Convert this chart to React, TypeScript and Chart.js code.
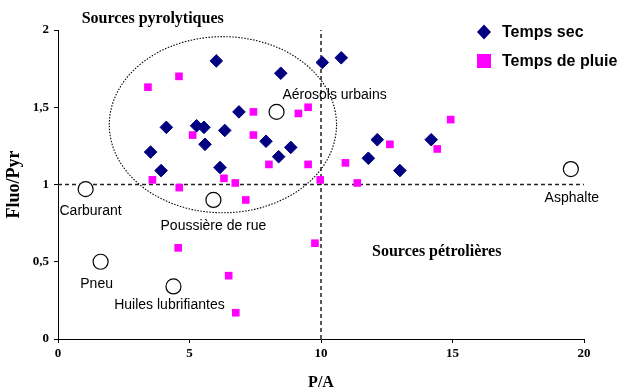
import React, { useEffect, useRef } from 'react';
import { Chart, registerables } from 'chart.js';

Chart.register(...registerables);

const SERIF = '"Liberation Serif", "Times New Roman", serif';
const SANS = '"Liberation Sans", Arial, sans-serif';

// Axis ticks
const X_TICKS = [0, 5, 10, 15, 20];
const Y_TICKS = [0, 0.5, 1, 1.5, 2];

// Temps sec (dry weather)
const dryX = [6.02, 8.47, 10.05, 10.77, 6.88, 4.12, 5.27, 5.55, 6.34, 5.59, 3.52, 7.91, 8.39, 8.85, 3.92, 6.16, 12.14, 11.8, 13.0, 14.19];
const dryY = [1.8, 1.72, 1.79, 1.82, 1.47, 1.37, 1.38, 1.37, 1.35, 1.26, 1.21, 1.28, 1.18, 1.24, 1.09, 1.11, 1.29, 1.17, 1.09, 1.29];

// Temps de pluie (rainy weather)
const wetX = [3.42, 4.6, 7.43, 9.14, 9.51, 5.12, 7.43, 8.02, 9.51, 10.93, 3.59, 6.31, 6.74, 4.61, 9.97, 7.14, 14.93, 12.62, 14.42, 11.38, 4.57, 9.77, 6.49, 6.76];
const wetY = [1.63, 1.7, 1.47, 1.46, 1.5, 1.32, 1.32, 1.13, 1.13, 1.14, 1.03, 1.04, 1.01, 0.98, 1.03, 0.9, 1.42, 1.26, 1.23, 1.01, 0.59, 0.62, 0.41, 0.17];

// Reference sources
const sourceNames = ['Carburant', 'Poussière de rue', 'Pneu', 'Huiles lubrifiantes', 'Aérosols urbains', 'Asphalte'];
const sourceX = [1.05, 5.91, 1.62, 4.39, 8.31, 19.5];
const sourceY = [0.97, 0.9, 0.5, 0.34, 1.47, 1.1];

// Threshold lines
const thresholdPA = 10;
const thresholdFP = 1;

// Dotted ellipse enclosing pyrolytic zone (data units)
const ellipseCenter = [6.27, 1.387];
const ellipseRadii = [4.32, 0.57];

// Region labels (data anchors)
const regionNames = ['Sources pyrolytiques', 'Sources pétrolières'];
const regionX = [3.6, 14.4];
const regionY = [2.07, 0.563];

const legendNames = ['Temps sec', 'Temps de pluie'];

// label pixel offsets from source point (style)
const LABEL_OFFSETS: [number, number][] = [[5, 22], [0, 26], [-4, 22], [-4, 19], [58, -17], [1, 29]];

export default function App() {
  const ref = useRef<HTMLCanvasElement>(null);

  useEffect(() => {
    const canvas = ref.current;
    if (!canvas) return;

    const overlay = {
      id: 'overlay',
      beforeDatasetsDraw(chart: any) {
        const { ctx, scales } = chart;
        const x = scales.x, y = scales.y;
        const cx = x.getPixelForValue(ellipseCenter[0]);
        const cy = y.getPixelForValue(ellipseCenter[1]);
        const rx = x.getPixelForValue(ellipseCenter[0] + ellipseRadii[0]) - cx;
        const ry = cy - y.getPixelForValue(ellipseCenter[1] + ellipseRadii[1]);
        ctx.save();
        ctx.beginPath();
        ctx.setLineDash([1.5, 1.5]);
        ctx.lineWidth = 1.1;
        ctx.strokeStyle = '#000';
        ctx.ellipse(cx, cy, rx, ry, 0, 0, Math.PI * 2);
        ctx.stroke();
        ctx.restore();
      },
      afterDatasetsDraw(chart: any) {
        const { ctx, scales } = chart;
        const x = scales.x, y = scales.y;
        ctx.save();
        ctx.fillStyle = '#000';
        ctx.textAlign = 'center';
        ctx.textBaseline = 'middle';
        ctx.font = `14px ${SANS}`;
        sourceNames.forEach((n, i) => {
          const px = x.getPixelForValue(sourceX[i]) + LABEL_OFFSETS[i][0];
          const py = y.getPixelForValue(sourceY[i]) + LABEL_OFFSETS[i][1];
          ctx.fillText(n, px, py);
        });
        ctx.font = `bold 16px ${SERIF}`;
        regionNames.forEach((n, i) => {
          ctx.fillText(n, x.getPixelForValue(regionX[i]), y.getPixelForValue(regionY[i]));
        });
        // legend
        const lx = 484;
        const ly = [32, 61];
        ctx.fillStyle = '#000080';
        ctx.beginPath();
        ctx.moveTo(lx, ly[0] - 7.5);
        ctx.lineTo(lx + 7, ly[0]);
        ctx.lineTo(lx, ly[0] + 7.5);
        ctx.lineTo(lx - 7, ly[0]);
        ctx.closePath();
        ctx.fill();
        ctx.fillStyle = '#FF00FF';
        ctx.fillRect(lx - 7, ly[1] - 7, 14, 14);
        ctx.fillStyle = '#000';
        ctx.textAlign = 'left';
        ctx.font = `bold 16px ${SANS}`;
        legendNames.forEach((n, i) => ctx.fillText(n, 502, ly[i] + 1));
        ctx.restore();
      },
    };

    const chart = new Chart(canvas, {
      type: 'scatter',
      data: {
        datasets: [
          {
            label: legendNames[0],
            data: dryX.map((v, i) => ({ x: v, y: dryY[i] })),
            pointStyle: 'rectRot',
            pointRadius: 6.3,
            backgroundColor: '#000080',
            borderColor: '#000080',
            borderWidth: 1,
            order: 2,
            clip: false,
          },
          {
            label: legendNames[1],
            data: wetX.map((v, i) => ({ x: v, y: wetY[i] })),
            pointStyle: 'rect',
            pointRadius: 5.4,
            backgroundColor: '#FF00FF',
            borderColor: '#FF00FF',
            borderWidth: 0,
            order: 3,
            clip: false,
          },
          {
            label: 'Sources',
            data: sourceX.map((v, i) => ({ x: v, y: sourceY[i] })),
            pointStyle: 'circle',
            pointRadius: 7.5,
            backgroundColor: '#fff',
            borderColor: '#000',
            borderWidth: 1.2,
            order: 1,
            clip: false,
          },
          {
            label: 'seuil Fluo/Pyr',
            data: [{ x: X_TICKS[0], y: thresholdFP }, { x: X_TICKS[X_TICKS.length - 1], y: thresholdFP }],
            showLine: true,
            pointRadius: 0,
            borderColor: '#222',
            borderWidth: 1.5,
            borderDash: [4, 3],
            order: 10,
          } as any,
          {
            label: 'seuil P/A',
            data: [{ x: thresholdPA, y: Y_TICKS[0] }, { x: thresholdPA, y: Y_TICKS[Y_TICKS.length - 1] }],
            showLine: true,
            pointRadius: 0,
            borderColor: '#222',
            borderWidth: 1.5,
            borderDash: [4, 3],
            order: 10,
          } as any,
        ],
      },
      options: {
        responsive: false,
        animation: false,
        layout: { padding: { top: 30, right: 36, left: 0, bottom: 0 } },
        plugins: { legend: { display: false }, tooltip: { enabled: false } },
        scales: {
          x: {
            type: 'linear',
            min: X_TICKS[0],
            max: X_TICKS[X_TICKS.length - 1],
            afterFit: (s: any) => { s.height = 48; },
            afterBuildTicks: (s: any) => { s.ticks = X_TICKS.map((v) => ({ value: v })); },
            ticks: { color: '#000', font: { family: SERIF, size: 13, weight: 'bold' }, padding: 3, autoSkip: false, maxRotation: 0 },
            grid: { drawOnChartArea: false, drawTicks: true, tickLength: 4, color: '#000' },
            border: { color: '#000', width: 1 },
            title: { display: true, text: 'P/A', color: '#000', font: { family: SERIF, size: 16, weight: 'bold' }, padding: { top: 0, bottom: -5 } },
          },
          y: {
            type: 'linear',
            min: Y_TICKS[0],
            max: Y_TICKS[Y_TICKS.length - 1],
            afterFit: (s: any) => { s.width = 58; },
            afterBuildTicks: (s: any) => { s.ticks = Y_TICKS.map((v) => ({ value: v })); },
            ticks: {
              color: '#000',
              font: { family: SERIF, size: 13, weight: 'bold' },
              padding: 5,
              autoSkip: false,
              callback: (v: any) => String(v).replace('.', ','),
            },
            grid: { drawOnChartArea: false, drawTicks: true, tickLength: 4, color: '#000' },
            border: { color: '#000', width: 1 },
            title: { display: true, text: 'Fluo/Pyr', color: '#000', font: { family: SERIF, size: 18, weight: 'bold' }, padding: { top: 4, bottom: 0 } },
          },
        },
      } as any,
      plugins: [overlay],
    });

    return () => chart.destroy();
  }, []);

  return (
    <div style={{ position: 'absolute', left: 0, top: 0, width: 620, height: 387 }}>
      <canvas ref={ref} width={620} height={387} style={{ display: 'block' }} />
    </div>
  );
}
